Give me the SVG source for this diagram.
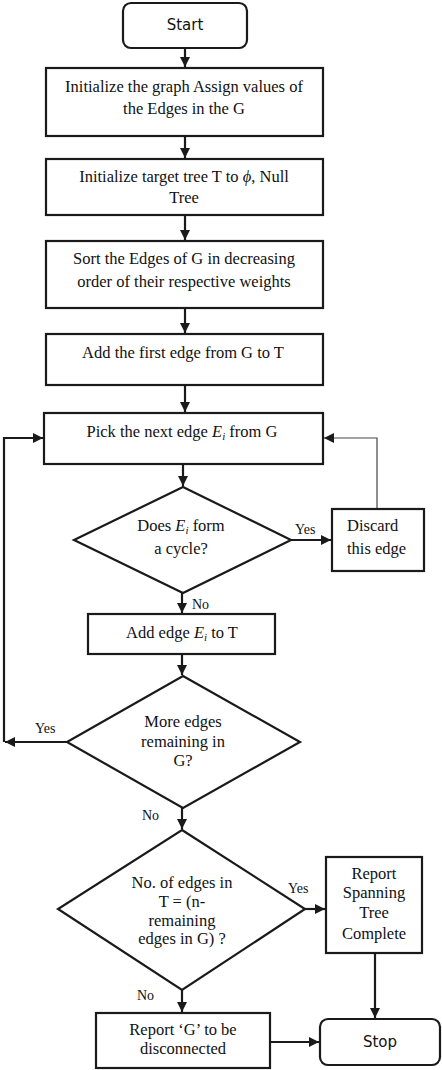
<svg xmlns="http://www.w3.org/2000/svg" width="442" height="1070" viewBox="0 0 442 1070">
<style>
.b{fill:#fff;stroke:#1a1a1a;stroke-width:2.2}
.t{font-family:"Liberation Serif","Times New Roman",serif;font-size:16.5px;fill:#111;text-anchor:middle}
.ts{font-family:"Liberation Serif","Times New Roman",serif;font-size:16.5px;fill:#111;text-anchor:start}
.l{font-family:"Liberation Serif","Times New Roman",serif;font-size:14px;fill:#111}
.s{font-family:"DejaVu Sans",Verdana,sans-serif;font-size:15px;fill:#111;text-anchor:middle}
.c{fill:none;stroke:#1a1a1a;stroke-width:2.2}
.thin{fill:none;stroke:#444;stroke-width:1.2}
</style>
<defs>
<marker id="ah" viewBox="0 0 10 10" refX="10" refY="5" markerWidth="10" markerHeight="10" markerUnits="userSpaceOnUse" orient="auto">
<path d="M0,0 L10,5 L0,10 Z" fill="#1a1a1a"/>
</marker>
</defs>
<rect width="442" height="1070" fill="#fff"/>
<g id="connectors">
<line class="c" x1="185" y1="48" x2="185" y2="67" marker-end="url(#ah)"/>
<line class="c" x1="185" y1="136" x2="185" y2="158" marker-end="url(#ah)"/>
<line class="c" x1="185" y1="215" x2="185" y2="240" marker-end="url(#ah)"/>
<line class="c" x1="185" y1="308" x2="185" y2="333" marker-end="url(#ah)"/>
<line class="c" x1="185" y1="385" x2="185" y2="412" marker-end="url(#ah)"/>
<line class="c" x1="183" y1="464" x2="183" y2="486" marker-end="url(#ah)"/>
<line class="c" x1="291" y1="540" x2="331" y2="540" marker-end="url(#ah)"/>
<polyline class="thin" points="377,509 377,438 324,438" marker-end="url(#ah)"/>
<line class="c" x1="182" y1="593" x2="182" y2="613" marker-end="url(#ah)"/>
<line class="c" x1="182" y1="654" x2="182" y2="675" marker-end="url(#ah)"/>
<polyline class="c" points="67,742 5,742"/>
<path d="M5,742 L15,737 L15,747 Z" fill="#1a1a1a"/>
<polyline class="c" points="4,742 4,438 43,438" marker-end="url(#ah)"/>
<line class="c" x1="182" y1="808" x2="182" y2="829" marker-end="url(#ah)"/>
<line class="c" x1="305" y1="909" x2="325" y2="909" marker-end="url(#ah)"/>
<line class="c" x1="375" y1="953" x2="375" y2="1018" marker-end="url(#ah)"/>
<line class="c" x1="182" y1="990" x2="182" y2="1012" marker-end="url(#ah)"/>
<line class="c" x1="270" y1="1042" x2="319" y2="1042" marker-end="url(#ah)"/>
<text class="l" x="295" y="534">Yes</text>
<text class="l" x="192" y="609">No</text>
<text class="l" x="35" y="733">Yes</text>
<text class="l" x="142" y="820">No</text>
<text class="l" x="288" y="893">Yes</text>
<text class="l" x="137" y="1000">No</text>
</g>
<g id="start">
<rect class="b" x="123" y="3" width="124" height="45" rx="8"/>
<text class="s" x="185" y="30">Start</text>
</g>
<g id="init-graph">
<rect class="b" x="46" y="68" width="277" height="68"/>
<text class="t" x="184" y="92">Initialize the graph Assign values of</text>
<text class="t" x="184" y="114">the Edges in the G</text>
</g>
<g id="init-tree">
<rect class="b" x="46" y="159" width="277" height="56"/>
<text class="t" x="184" y="182">Initialize target tree T to <tspan font-style="italic">ϕ</tspan>, Null</text>
<text class="t" x="184" y="203">Tree</text>
</g>
<g id="sort">
<rect class="b" x="46" y="241" width="277" height="67"/>
<text class="t" x="184" y="264">Sort the Edges of G in decreasing</text>
<text class="t" x="184" y="287">order of their respective weights</text>
</g>
<g id="add-first">
<rect class="b" x="46" y="334" width="277" height="51"/>
<text class="t" x="183" y="358">Add the first edge from G to T</text>
</g>
<g id="pick">
<rect class="b" x="44" y="413" width="279" height="51"/>
<text class="t" x="182" y="437">Pick the next edge <tspan font-style="italic">E</tspan><tspan font-style="italic" font-size="11" dy="3">i</tspan><tspan dy="-3"> from G</tspan></text>
</g>
<g id="cycle">
<polygon class="b" points="183,487 291,540 183,593 74,540"/>
<text class="t" x="181" y="531">Does <tspan font-style="italic">E</tspan><tspan font-style="italic" font-size="11" dy="3">i</tspan><tspan dy="-3"> form</tspan></text>
<text class="t" x="181" y="554">a cycle?</text>
</g>
<g id="discard">
<rect class="b" x="332" y="509" width="92" height="62"/>
<text class="ts" x="347" y="531">Discard</text>
<text class="ts" x="347" y="554">this edge</text>
</g>
<g id="add-edge">
<rect class="b" x="88" y="614" width="187" height="40"/>
<text class="t" x="182" y="638">Add edge <tspan font-style="italic">E</tspan><tspan font-style="italic" font-size="11" dy="3">i</tspan><tspan dy="-3">  to  T</tspan></text>
</g>
<g id="more-edges">
<polygon class="b" points="183,676 300,742 183,808 67,742"/>
<text class="t" x="183" y="727">More edges</text>
<text class="t" x="183" y="747">remaining in</text>
<text class="t" x="183" y="766">G?</text>
</g>
<g id="count-check">
<polygon class="b" points="182,830 305,909 182,990 58,909"/>
<text class="t" x="182" y="888">No. of edges in</text>
<text class="t" x="182" y="907">T = (n-</text>
<text class="t" x="182" y="926">remaining</text>
<text class="t" x="182" y="944">edges in G) ?</text>
</g>
<g id="report-complete">
<rect class="b" x="326" y="857" width="96" height="96"/>
<text class="t" x="374" y="879">Report</text>
<text class="t" x="374" y="898">Spanning</text>
<text class="t" x="374" y="918">Tree</text>
<text class="t" x="374" y="939">Complete</text>
</g>
<g id="report-disconnected">
<rect class="b" x="96" y="1013" width="174" height="55"/>
<text class="t" x="183" y="1035">Report ‘G’ to be</text>
<text class="t" x="183" y="1054">disconnected</text>
</g>
<g id="stop">
<rect class="b" x="320" y="1019" width="120" height="46" rx="8"/>
<text class="s" x="380" y="1047">Stop</text>
</g>
</svg>
